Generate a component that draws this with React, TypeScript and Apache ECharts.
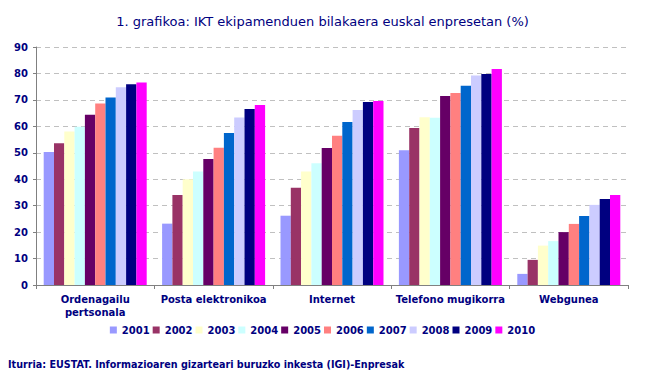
import React, { useEffect, useRef } from "react";
import * as echarts from "echarts";

const categories = ["Ordenagailu\npertsonala", "Posta elektronikoa", "Internet", "Telefono mugikorra", "Webgunea"];
const years = ["2001", "2002", "2003", "2004", "2005", "2006", "2007", "2008", "2009", "2010"];
const colors = ["#9999ff", "#993366", "#ffffcc", "#ccffff", "#660066", "#ff8080", "#0066cc", "#ccccff", "#000080", "#ff00ff"];
const v2001 = [50.3, 23.2, 26.2, 51.0, 4.2];
const v2002 = [53.6, 34.0, 36.8, 59.4, 9.5];
const v2003 = [58.0, 40.0, 42.9, 63.4, 14.9];
const v2004 = [59.8, 42.9, 46.0, 63.2, 16.6];
const v2005 = [64.4, 47.6, 51.8, 71.5, 20.0];
const v2006 = [68.6, 51.9, 56.4, 72.6, 23.1];
const v2007 = [70.9, 57.5, 61.6, 75.3, 26.1];
const v2008 = [74.8, 63.3, 66.2, 79.2, 30.3];
const v2009 = [75.9, 66.6, 69.2, 79.8, 32.5];
const v2010 = [76.6, 68.1, 69.6, 81.7, 34.0];
const seriesValues = [v2001, v2002, v2003, v2004, v2005, v2006, v2007, v2008, v2009, v2010];
const yTicks = [0, 10, 20, 30, 40, 50, 60, 70, 80, 90];

const FONT = "DejaVu Sans";
const NAVY = "#000080";

export default function App() {
  const ref = useRef<HTMLDivElement>(null);
  useEffect(() => {
    if (!ref.current) return;
    const chart = echarts.init(ref.current, null, { renderer: "svg" });
    chart.setOption({
      animation: false,
      backgroundColor: "#ffffff",
      title: {
        text: "1. grafikoa: IKT ekipamenduen bilakaera euskal enpresetan (%)",
        left: "center",
        top: 10,
        textStyle: { fontFamily: FONT, fontSize: 13, fontWeight: "normal", color: NAVY },
      },
      legend: {
        data: years,
        bottom: 44,
        left: "center",
        itemWidth: 7,
        itemHeight: 7,
        itemGap: 3,
        icon: "rect",
        textStyle: { fontFamily: FONT, fontSize: 10, fontWeight: "bold", color: NAVY },
      },
      graphic: [
        {
          type: "text",
          left: 8,
          top: 359,
          style: {
            text: "Iturria: EUSTAT. Informazioaren gizarteari buruzko inkesta (IGI)-Enpresak",
            fontFamily: FONT,
            fontSize: 9.6,
            fontWeight: "bold",
            fill: NAVY,
          },
        },
      ],
      grid: { left: 36, right: 17, top: 47, bottom: 99 },
      xAxis: {
        type: "category",
        data: categories,
        axisLine: { lineStyle: { color: "#808080", width: 1 } },
        axisTick: { show: true, alignWithLabel: false, lineStyle: { color: "#808080" }, length: 4 },
        axisLabel: { fontFamily: FONT, fontSize: 10, fontWeight: "bold", color: NAVY, interval: 0, margin: 8, lineHeight: 13 },
      },
      yAxis: {
        type: "value",
        min: 0,
        max: 90,
        interval: 10,
        axisLine: { show: true, lineStyle: { color: "#808080", width: 1 } },
        axisTick: { show: true, length: 3, lineStyle: { color: "#808080" } },
        axisLabel: { fontFamily: FONT, fontSize: 10, fontWeight: "bold", color: NAVY, margin: 8,
          formatter: (v: number) => (yTicks.includes(v) ? String(v) : "") },
        splitLine: { lineStyle: { color: "#c0c0c0", type: [5, 4], width: 1 } },
      },
      series: years.map((y, i) => ({
        name: y,
        type: "bar",
        data: seriesValues[i],
        barGap: "0%",
        barCategoryGap: "13%",
        itemStyle: { color: colors[i] },
      })),
    });
    return () => chart.dispose();
  }, []);
  return <div ref={ref} style={{ width: 645, height: 384, position: "absolute", left: 0, top: 0 }} />;
}
